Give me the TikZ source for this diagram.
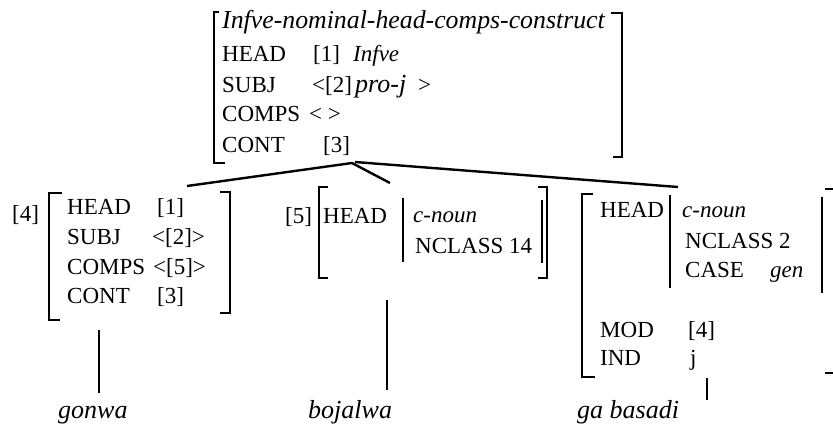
\documentclass[tikz,border=0pt]{standalone}
\usepackage{fontspec}
\setmainfont{Liberation Serif}
\begin{document}
\begin{tikzpicture}[x=1pt,y=-1pt,
  t/.style={anchor=base west,inner sep=0pt,font=\fontsize{23}{28}\selectfont},
  ti/.style={t,font=\fontsize{23}{28}\selectfont\itshape},
  tw/.style={t,font=\fontsize{26}{30}\selectfont\itshape},
  brk/.style={line width=2.2pt},
  edge/.style={line width=2.4pt}]
\useasboundingbox (0,0) rectangle (833,426);
% ---- top box
\node[t,font=\fontsize{25.8}{30}\selectfont\itshape] (title) at (222,28) {Infve-nominal-head-comps-construct};
\node[t] (th) at (222,61) {HEAD};
\node[t] (th1) at (313,61) {[1]};
\node[ti] (thv) at (353,61) {Infve};
\node[t] (ts) at (222,92) {SUBJ};
\node[t] (ts2) at (312,92) {<[2]};
\node[tw] (tsv) at (355,92) {pro-j};
\node[t] (tsg) at (418,92) {>};
\node[t] (tc) at (222,121) {COMPS};
\node[t] (tcv) at (309,121) {< >};
\node[t] (tk) at (222,152) {CONT};
\node[t] (tk3) at (323,152) {[3]};
\draw[brk] (219,12) -- (214,12) -- (214,163) -- (225,163);
\draw[brk] (611,13) -- (622,13) -- (622,157) -- (613,157);
% ---- tree lines
\coordinate (apex) at (352,163);
\coordinate (apexR) at (355,162);
\coordinate (e4) at (187,186);
\coordinate (e5) at (390,183);
\coordinate (e6) at (678,187);
\draw[edge] (e4) -- (apex) -- (e5);
\draw[edge] (apexR) -- (e6);
% ---- box [4]
\node[t] (b4) at (12,221) {[4]};
\node[t] (ah) at (67,214) {HEAD};
\node[t] (ah1) at (157,214) {[1]};
\node[t] (as) at (67,244) {SUBJ};
\node[t] (as2) at (152,244) {<[2]>};
\node[t] (ac) at (67,274) {COMPS};
\node[t] (ac5) at (153,274) {<[5]>};
\node[t] (ak) at (67,303) {CONT};
\node[t] (ak3) at (157,303) {[3]};
\draw[brk] (62,193) -- (49,193) -- (49,320) -- (60,320);
\draw[brk] (220,192) -- (230,192) -- (230,313) -- (220,313);
\coordinate (w4a) at (99,330);
\coordinate (w4b) at (99,393);
\draw[edge] (w4a) -- (w4b);
\node[tw] (gonwa) at (58,418) {gonwa};
% ---- box [5]
\node[t] (b5) at (285,223) {[5]};
\node[t] (bh) at (323,223) {HEAD};
\node[ti] (bcn) at (413,222) {c-noun};
\node[t] (bnc) at (415,253) {NCLASS 14};
\draw[brk] (328,187) -- (319,187) -- (319,278) -- (328,278);
\draw[brk] (403,198) -- (403,262);
\draw[brk] (538,187) -- (547,187) -- (547,278) -- (538,278);
\draw[brk] (542,200) -- (542,263);
\coordinate (w5a) at (387,300);
\coordinate (w5b) at (387,390);
\draw[edge] (w5a) -- (w5b);
\node[tw] (bojalwa) at (308,418) {bojalwa};
% ---- box genitive
\node[t] (ch) at (600,217) {HEAD};
\node[ti] (ccn) at (682,217) {c-noun};
\node[t] (cnc) at (685,248) {NCLASS 2};
\node[t] (cca) at (685,277) {CASE};
\node[ti] (cgen) at (770,277) {gen};
\node[t] (cm) at (600,337) {MOD};
\node[t] (cm4) at (688,337) {[4]};
\node[t] (ci) at (600,365) {IND};
\node[t] (cij) at (690,365) {j};
\draw[brk] (593,194) -- (582,194) -- (582,377) -- (595,377);
\draw[brk] (670,195) -- (670,288);
\draw[brk] (822,197) -- (822,293);
\draw[brk] (825,189) -- (833,189);
\draw[brk] (825,373) -- (833,373);
\coordinate (w6a) at (707,378);
\coordinate (w6b) at (707,400);
\draw[edge] (w6a) -- (w6b);
\node[tw] (gabasadi) at (577,418) {ga basadi};
\end{tikzpicture}
\end{document}
